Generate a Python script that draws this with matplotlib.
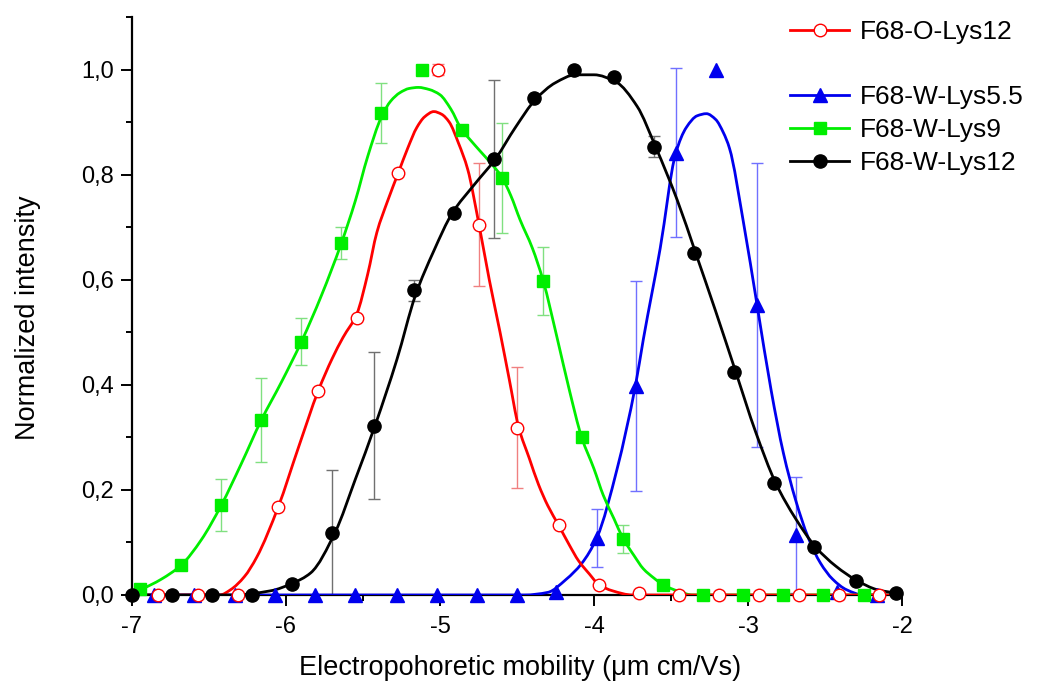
import numpy as np
import matplotlib
matplotlib.use("Agg")
import matplotlib.pyplot as plt
from matplotlib.lines import Line2D
from matplotlib.path import Path
from matplotlib.patches import PathPatch
from matplotlib.ticker import MultipleLocator, FuncFormatter

plt.rcParams['font.family'] = ['Liberation Sans', 'DejaVu Sans']
plt.rcParams['axes.unicode_minus'] = False

# ---------------- data: measured points ----------------
x_red = [-6.83, -6.57, -6.31, -6.05, -5.79, -5.54, -5.27, -5.01, -4.75, -4.50,
         -4.23, -3.97, -3.71, -3.45, -3.19, -2.93, -2.67, -2.41, -2.15]
y_red = [0.0, 0.0, 0.0, 0.168, 0.389, 0.528, 0.804, 1.0, 0.705, 0.318,
         0.133, 0.019, 0.003, 0.0, 0.0, 0.0, 0.0, 0.0, 0.0]
e_red = [0, 0, 0, 0, 0, 0, 0, 0.01, 0.117, 0.115,
         0, 0, 0, 0, 0, 0, 0, 0, 0]

x_blue = [-6.86, -6.60, -6.33, -6.07, -5.81, -5.55, -5.28, -5.02, -4.76, -4.50,
          -4.25, -3.98, -3.73, -3.47, -3.21, -2.94, -2.69, -2.42, -2.16]
y_blue = [0.0, 0.0, 0.0, 0.0, 0.0, 0.0, 0.0, 0.0, 0.0, 0.0,
          0.006, 0.109, 0.397, 0.842, 1.0, 0.552, 0.114, 0.005, 0.0]
e_blue = [0, 0, 0, 0, 0, 0, 0, 0, 0, 0,
          0, 0.055, 0.20, 0.16, 0, 0.27, 0.11, 0, 0]

x_green = [-6.95, -6.68, -6.42, -6.16, -5.90, -5.64, -5.38, -5.12, -4.86, -4.60,
           -4.33, -4.08, -3.81, -3.55, -3.29, -3.03, -2.77, -2.51, -2.25]
y_green = [0.011, 0.057, 0.171, 0.333, 0.482, 0.67, 0.918, 1.0, 0.884, 0.794,
           0.598, 0.301, 0.107, 0.019, 0.0, 0.0, 0.0, 0.0, 0.0]
e_green = [0, 0, 0.05, 0.08, 0.045, 0.03, 0.057, 0, 0, 0.105,
           0.065, 0, 0.027, 0, 0, 0, 0, 0, 0]

x_black = [-7.00, -6.74, -6.48, -6.22, -5.96, -5.70, -5.43, -5.17, -4.91, -4.65,
           -4.39, -4.13, -3.87, -3.61, -3.35, -3.09, -2.83, -2.57, -2.30, -2.04]
y_black = [0.0, 0.0, 0.0, 0.0, 0.02, 0.118, 0.322, 0.58, 0.727, 0.83,
           0.945, 1.0, 0.985, 0.853, 0.651, 0.425, 0.213, 0.091, 0.027, 0.004]
e_black = [0, 0, 0, 0, 0, 0.12, 0.14, 0.02, 0, 0.15,
           0, 0, 0, 0.02, 0, 0, 0, 0, 0, 0]

# ---------------- data: fitted curves ----------------
fx_red = [-7.0, -6.43, -6.36, -6.27, -6.19, -6.05, -5.92, -5.79, -5.70, -5.63,
          -5.54, -5.47, -5.41, -5.34, -5.27, -5.21, -5.15, -5.10, -5.04, -4.99,
          -4.94, -4.88, -4.82, -4.75, -4.68, -4.61, -4.55, -4.49, -4.42, -4.36,
          -4.30, -4.23, -4.16, -4.10, -4.03, -3.97, -3.88, -3.75, -2.0]
fy_red = [0.0, 0.0, 0.01, 0.035, 0.072, 0.168, 0.28, 0.389, 0.45, 0.49,
          0.535, 0.61, 0.69, 0.75, 0.804, 0.85, 0.89, 0.91, 0.92, 0.915,
          0.90, 0.86, 0.81, 0.71, 0.60, 0.50, 0.41, 0.32, 0.26, 0.21,
          0.17, 0.133, 0.095, 0.065, 0.04, 0.02, 0.008, 0.0, 0.0]

fx_blue = [-7.0, -4.45, -4.30, -4.18, -4.08, -3.98, -3.85, -3.73, -3.68, -3.57,
           -3.47, -3.40, -3.33, -3.27, -3.21, -3.16, -3.12, -3.03, -2.94, -2.85,
           -2.77, -2.69, -2.61, -2.53, -2.45, -2.36, -2.25, -2.0]
fy_blue = [0.0, 0.0, 0.005, 0.03, 0.06, 0.11, 0.24, 0.40, 0.486, 0.66,
           0.84, 0.89, 0.912, 0.916, 0.905, 0.88, 0.85, 0.71, 0.55, 0.39,
           0.27, 0.18, 0.11, 0.061, 0.03, 0.01, 0.0, 0.0]

fx_green = [-7.0, -6.94, -6.81, -6.68, -6.55, -6.42, -6.29, -6.16, -6.03, -5.90,
            -5.77, -5.64, -5.55, -5.47, -5.38, -5.32, -5.26, -5.20, -5.14, -5.07,
            -5.00, -4.93, -4.86, -4.80, -4.74, -4.67, -4.60, -4.54, -4.48, -4.40,
            -4.33, -4.24, -4.16, -4.08, -4.00, -3.94, -3.87, -3.81, -3.74, -3.68,
            -3.61, -3.55, -3.45, -3.36, -2.0]
fy_green = [0.0, 0.01, 0.03, 0.057, 0.105, 0.171, 0.25, 0.333, 0.405, 0.482,
            0.57, 0.67, 0.75, 0.834, 0.91, 0.94, 0.956, 0.964, 0.966, 0.962,
            0.952, 0.925, 0.886, 0.865, 0.845, 0.822, 0.796, 0.76, 0.714, 0.66,
            0.598, 0.49, 0.39, 0.30, 0.24, 0.19, 0.145, 0.107, 0.075, 0.05,
            0.032, 0.019, 0.007, 0.0, 0.0]

fx_black = [-7.0, -6.35, -6.10, -5.96, -5.84, -5.68, -5.55, -5.42, -5.28, -5.16,
            -5.04, -4.92, -4.78, -4.64, -4.51, -4.38, -4.25, -4.12, -4.00, -3.86,
            -3.72, -3.60, -3.46, -3.34, -3.21, -3.08, -2.95, -2.82, -2.69, -2.56,
            -2.43, -2.29, -2.16, -2.0]
fy_black = [0.0, 0.0, 0.008, 0.022, 0.042, 0.12, 0.22, 0.324, 0.448, 0.57,
            0.655, 0.727, 0.78, 0.83, 0.89, 0.943, 0.975, 0.99, 0.99, 0.977,
            0.93, 0.853, 0.752, 0.651, 0.54, 0.425, 0.31, 0.213, 0.145, 0.091,
            0.055, 0.027, 0.01, 0.002]

labels = ["F68-O-Lys12", "F68-W-Lys5.5", "F68-W-Lys9", "F68-W-Lys12"]


def smooth_path(xs, ys):
    """Bezier path through the read curve points (monotone cubic tangents)."""
    x = np.asarray(xs, float)
    y = np.asarray(ys, float)
    h = np.diff(x)
    d = np.diff(y) / h
    m = np.zeros_like(x)
    m[0], m[-1] = d[0], d[-1]
    for k in range(1, len(x) - 1):
        if d[k - 1] * d[k] <= 0:
            m[k] = 0.0
        else:
            w1 = 2 * h[k] + h[k - 1]
            w2 = h[k] + 2 * h[k - 1]
            m[k] = (w1 + w2) / (w1 / d[k - 1] + w2 / d[k])
    verts = [(x[0], y[0])]
    codes = [Path.MOVETO]
    for k in range(len(h)):
        verts += [(x[k] + h[k] / 3, y[k] + m[k] * h[k] / 3),
                  (x[k + 1] - h[k] / 3, y[k + 1] - m[k + 1] * h[k] / 3),
                  (x[k + 1], y[k + 1])]
        codes += [Path.CURVE4] * 3
    return Path(verts, codes)


# ---------------- figure ----------------
fig = plt.figure(figsize=(10.37, 6.88), dpi=100)
ax = fig.add_axes([132 / 1037, 1 - 595 / 688, (902 - 132) / 1037, (595 - 17) / 688])

RED, BLUE, GREEN, BLACK = "#ff0000", "#0000ee", "#00ee00", "#000000"

series = [
    (x_blue, y_blue, e_blue, fx_blue, fy_blue, BLUE, "#7070ff", dict(marker="^", ms=9.5, mfc=BLUE, mec=BLUE)),
    (x_green, y_green, e_green, fx_green, fy_green, GREEN, "#80e080", dict(marker="s", ms=8.5, mfc=GREEN, mec=GREEN)),
    (x_red, y_red, e_red, fx_red, fy_red, RED, "#f08080", dict(marker="o", ms=9, mfc="white", mec=RED, mew=1.0)),
    (x_black, y_black, e_black, fx_black, fy_black, BLACK, "#707070", dict(marker="o", ms=9.5, mfc=BLACK, mec=BLACK)),
]

for i, (xs, ys, es, fx, fy, col, ecol, mk) in enumerate(series):
    patch = PathPatch(smooth_path(fx, fy), fill=False, edgecolor=col, lw=2.0,
                      zorder=3 + i * 0.1, transform=ax.transData)
    ax.add_patch(patch)
    ex = [x for x, e in zip(xs, es) if e > 0]
    ey = [y for y, e in zip(ys, es) if e > 0]
    ee = [e for e in es if e > 0]
    ax.errorbar(ex, ey, yerr=ee, fmt="none", ecolor=ecol, elinewidth=1.0,
                capsize=4.5, capthick=1.0, zorder=2)
    ax.plot(xs, ys, ls="none", zorder=5 + i * 0.1, clip_on=False, **mk)

ax.set_xlim(-7, -2)
ax.set_ylim(0, 1.1)
ax.xaxis.set_major_locator(MultipleLocator(1))
ax.xaxis.set_minor_locator(MultipleLocator(0.5))
ax.yaxis.set_major_locator(MultipleLocator(0.2))
ax.yaxis.set_minor_locator(MultipleLocator(0.1))
ax.xaxis.set_major_formatter(FuncFormatter(lambda v, p: f"{v:.0f}"))
ax.yaxis.set_major_formatter(FuncFormatter(lambda v, p: f"{v:.1f}".replace(".", ",")))

for s in ["top", "right"]:
    ax.spines[s].set_visible(False)
for s in ["left", "bottom"]:
    ax.spines[s].set_linewidth(1.6)

ax.tick_params(which="major", direction="out", length=8, width=1.4, labelsize=17)
ax.tick_params(which="minor", direction="out", length=4.5, width=1.4)
ax.tick_params(axis="x", which="major", pad=7)
ax.tick_params(axis="y", which="major", pad=5)

ax.set_xlabel("Electropohoretic mobility (\u03bcm cm/Vs)", fontsize=19.5)
ax.set_ylabel("Normalized intensity", fontsize=19.5)
ax.xaxis.set_label_coords(0.504, -0.103)
ax.yaxis.set_label_coords(-0.118, 0.479)

# legend
h_red = Line2D([], [], color=RED, lw=2, marker="o", ms=9, mfc="white", mec=RED)
h_blank = Line2D([], [], color="none")
h_blue = Line2D([], [], color=BLUE, lw=2, marker="^", ms=9.5, mfc=BLUE, mec=BLUE)
h_green = Line2D([], [], color=GREEN, lw=2, marker="s", ms=8.5, mfc=GREEN, mec=GREEN)
h_black = Line2D([], [], color=BLACK, lw=2, marker="o", ms=9.5, mfc=BLACK, mec=BLACK)
fig.legend([h_red, h_blank, h_blue, h_green, h_black],
           [labels[0], "", labels[1], labels[2], labels[3]],
           loc="upper left", bbox_to_anchor=(790 / 1037, 1 - 20 / 688),
           frameon=False, fontsize=19, handlelength=2.25, handletextpad=0.4,
           labelspacing=0.33, borderpad=0, borderaxespad=0)

fig.savefig("out.png", dpi=100)
